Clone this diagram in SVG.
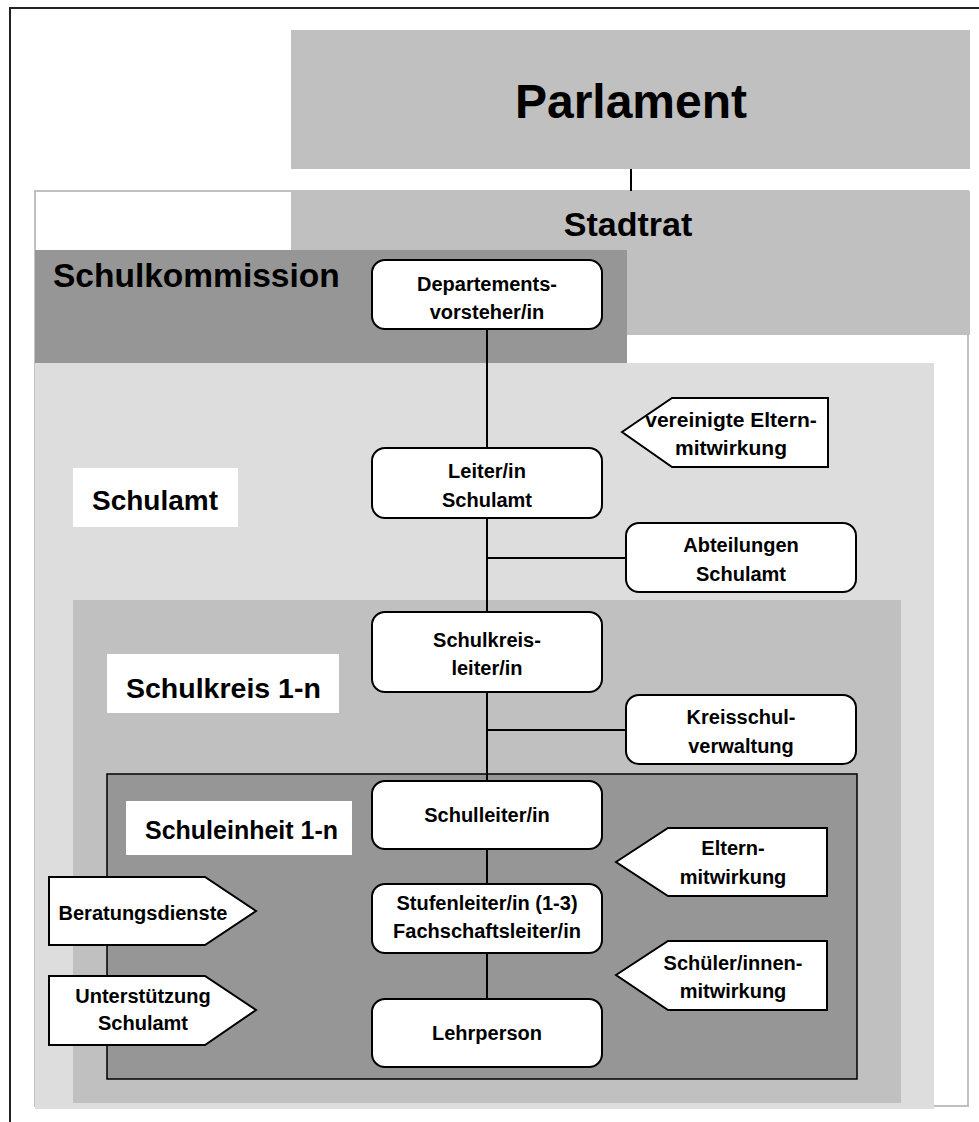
<svg xmlns="http://www.w3.org/2000/svg" width="979" height="1122" viewBox="0 0 979 1122">
<style>
text{font-family:"Liberation Sans",Arial,sans-serif;font-weight:bold;fill:#000;text-anchor:middle}
.lbl{text-anchor:start;font-size:28px}
.node{fill:#fff;stroke:#000;stroke-width:2}
.nt{font-size:20px}
.con{stroke:#000;stroke-width:2;fill:none}
</style>
<rect width="979" height="1122" fill="#fff"/>
<g id="frame"><path d="M10,1122 V8 H979" fill="none" stroke="#222" stroke-width="2"/></g>
<g id="parlament">
<rect x="291" y="30" width="679" height="139" fill="#c0c0c0"/>
<text x="631" y="118" style="font-size:48px">Parlament</text>
</g>
<g id="outer"><rect x="35" y="191" width="933" height="915" fill="#fff" stroke="#c0c0c0" stroke-width="2"/></g>
<g id="stadtrat">
<rect x="291" y="191" width="679" height="144" fill="#c0c0c0"/>
<text x="628" y="236" style="font-size:34px">Stadtrat</text>
</g>
<g id="schulkommission">
<rect x="35" y="250" width="592" height="113" fill="#969696"/>
<text class="lbl" x="53" y="287" style="font-size:33.5px">Schulkommission</text>
</g>
<g id="schulamt">
<rect x="35" y="363" width="899" height="746" fill="#dddddd"/>
<rect x="73" y="468" width="165" height="59" fill="#fff"/>
<text class="lbl" x="92" y="510">Schulamt</text>
</g>
<g id="schulkreis">
<rect x="73" y="600" width="828" height="503" fill="#c0c0c0"/>
<rect x="107" y="654" width="232" height="59" fill="#fff"/>
<text class="lbl" x="126" y="698" style="font-size:28.5px">Schulkreis 1-n</text>
</g>
<g id="schuleinheit">
<rect x="107" y="774" width="750" height="305" fill="#969696" stroke="#000" stroke-width="1.5"/>
<rect x="126" y="801" width="226" height="54" fill="#fff"/>
<text class="lbl" x="145" y="839" style="font-size:25px">Schuleinheit 1-n</text>
</g>
<g id="connectors">
<path class="con" d="M631,169 V191"/>
<path class="con" d="M487,329 V448 M487,518 V612 M487,558 H626 M487,692 V781 M487,730 H626 M487,849 V884 M487,953 V999"/>
</g>
<g id="departementsvorsteher">
<rect class="node" x="372" y="260" width="230" height="69" rx="13"/>
<text class="nt" x="487" y="291">Departements-</text>
<text class="nt" x="487" y="319">vorsteher/in</text>
</g>
<g id="leiter-schulamt">
<rect class="node" x="372" y="448" width="230" height="70" rx="13"/>
<text class="nt" x="487" y="478">Leiter/in</text>
<text class="nt" x="487" y="507">Schulamt</text>
</g>
<g id="abteilungen">
<rect class="node" x="626" y="523" width="230" height="69" rx="13"/>
<text class="nt" x="741" y="552">Abteilungen</text>
<text class="nt" x="741" y="581">Schulamt</text>
</g>
<g id="schulkreisleiter">
<rect class="node" x="372" y="612" width="230" height="80" rx="13"/>
<text class="nt" x="487" y="647">Schulkreis-</text>
<text class="nt" x="487" y="675">leiter/in</text>
</g>
<g id="kreisschulverwaltung">
<rect class="node" x="626" y="695" width="230" height="69" rx="13"/>
<text class="nt" x="741" y="724">Kreisschul-</text>
<text class="nt" x="741" y="753">verwaltung</text>
</g>
<g id="vereinigte-elternmitwirkung">
<polygon class="node" points="622,432 672,398 828,398 828,467 672,467"/>
<text class="nt" x="731" y="427" style="font-size:21px">vereinigte Eltern-</text>
<text class="nt" x="731" y="455" style="font-size:21px">mitwirkung</text>
</g>
<g id="schulleiter">
<rect class="node" x="372" y="781" width="230" height="68" rx="13"/>
<text class="nt" x="487" y="822">Schulleiter/in</text>
</g>
<g id="stufenleiter">
<rect class="node" x="372" y="884" width="230" height="69" rx="13"/>
<text class="nt" x="487" y="910">Stufenleiter/in (1-3)</text>
<text class="nt" x="487" y="938">Fachschaftsleiter/in</text>
</g>
<g id="lehrperson">
<rect class="node" x="372" y="999" width="230" height="68" rx="13"/>
<text class="nt" x="487" y="1040">Lehrperson</text>
</g>
<g id="elternmitwirkung">
<polygon class="node" points="616,862 668,828 827,828 827,896 668,896"/>
<text class="nt" x="733" y="855">Eltern-</text>
<text class="nt" x="733" y="884">mitwirkung</text>
</g>
<g id="schuelermitwirkung">
<polygon class="node" points="616,975 668,941 827,941 827,1010 668,1010"/>
<text class="nt" x="733" y="970">Schüler/innen-</text>
<text class="nt" x="733" y="998">mitwirkung</text>
</g>
<g id="beratungsdienste">
<polygon class="node" points="49,877 205,877 256,911 205,945 49,945"/>
<text class="nt" x="143" y="920">Beratungsdienste</text>
</g>
<g id="unterstuetzung">
<polygon class="node" points="49,976 205,976 256,1010 205,1045 49,1045"/>
<text class="nt" x="143" y="1003">Unterstützung</text>
<text class="nt" x="143" y="1030">Schulamt</text>
</g>
</svg>
